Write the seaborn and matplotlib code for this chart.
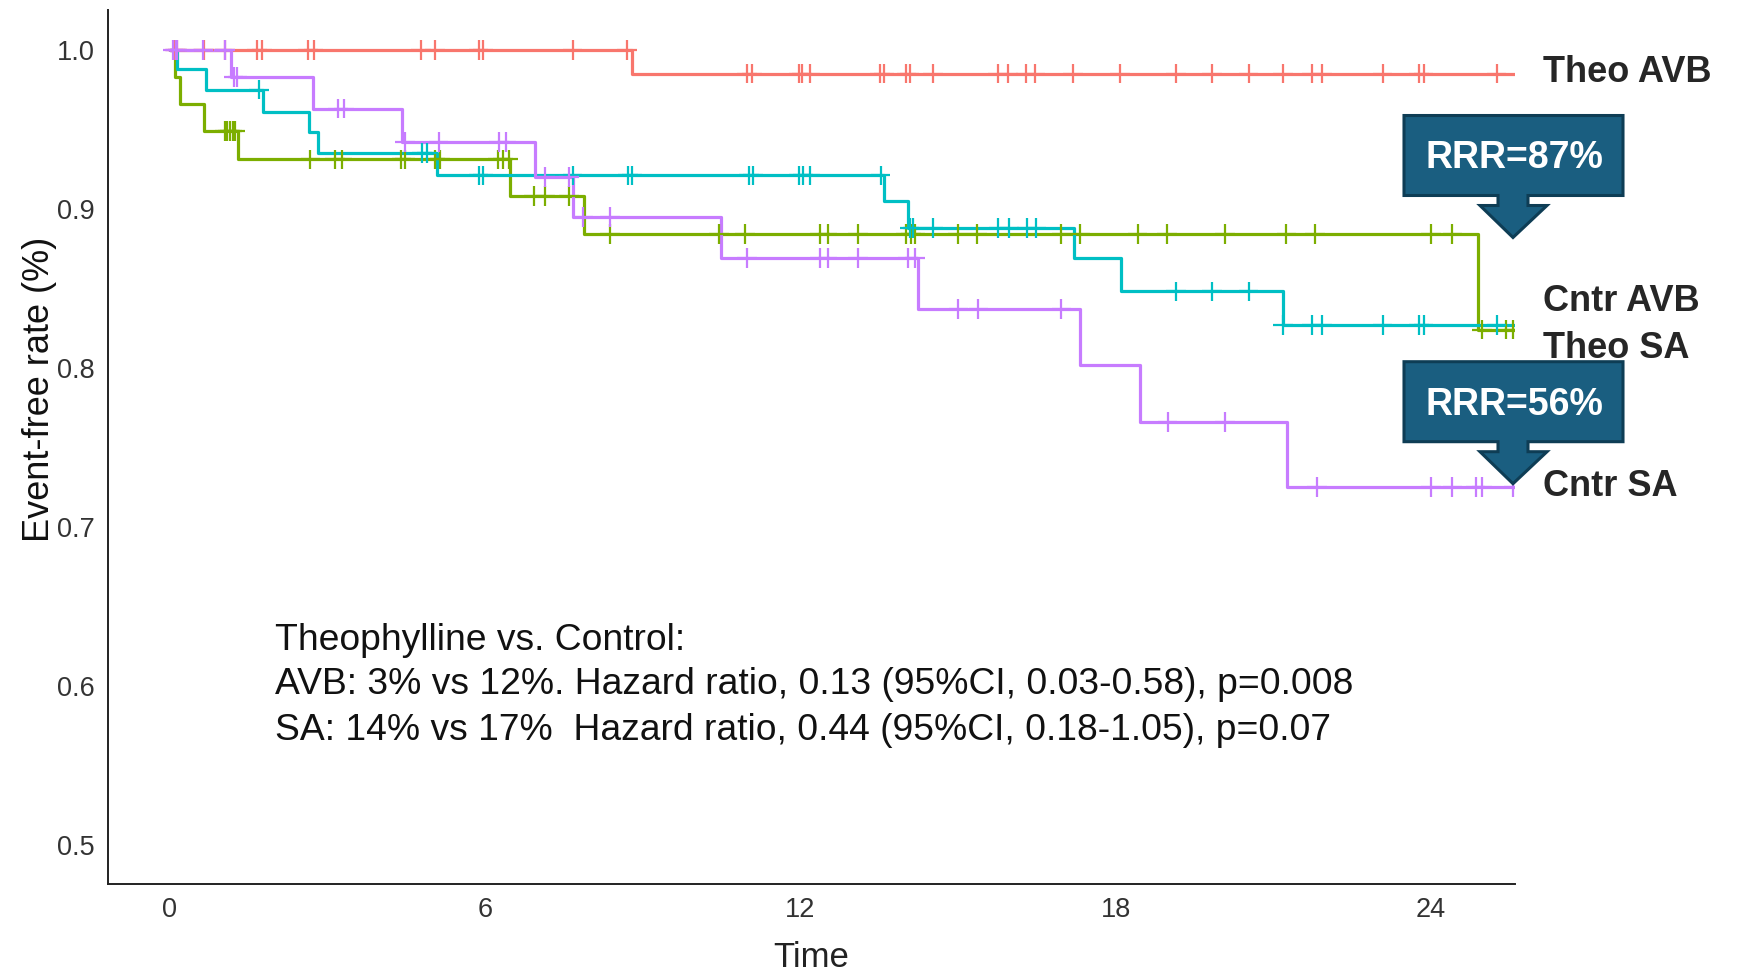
import numpy as np
import pandas as pd
import matplotlib.pyplot as plt
import seaborn as sns
from matplotlib.patches import Polygon

# step data (time in months, event-free rate)
theo_avb_t = [0, 8.8, 25.6]
theo_avb_s = [1.0, 0.985, 0.985]
theo_avb_cens = [0.1, 0.15, 0.66, 1.06, 1.66, 1.76, 2.64, 2.74, 4.78, 5.05, 5.88, 5.97,
                 7.67, 8.7, 10.99, 11.08, 11.97, 12.03, 12.18, 13.52, 13.59, 14.02, 14.08,
                 14.52, 15.76, 15.96, 16.3, 16.47, 17.19, 18.08, 19.15, 19.84, 20.53, 21.18,
                 21.73, 21.93, 23.08, 23.77, 23.86, 25.25]

theo_sa_t = [0, 0.1, 0.2, 0.66, 1.3, 6.47, 7.88, 24.9, 25.6]
theo_sa_s = [1.0, 0.983, 0.966, 0.949, 0.931, 0.908, 0.884, 0.824, 0.824]
theo_sa_cens = [1.05, 1.1, 1.15, 1.2, 1.24, 2.68, 3.15, 3.29, 4.41, 4.48, 5.05, 5.15,
                6.25, 6.34, 6.45, 6.94, 7.15, 7.6, 8.38, 10.45, 10.95, 12.38, 12.52, 13.1,
                14.01, 14.11, 14.18, 15.0, 15.37, 16.97, 17.33, 18.42, 18.98, 20.08, 21.25,
                21.79, 24.0, 24.41, 24.97, 25.43, 25.57]

cntr_avb_t = [0, 0.15, 0.69, 1.78, 2.65, 2.82, 5.09, 13.6, 14.05, 17.2, 18.1, 21.18, 25.6]
cntr_avb_s = [1.0, 0.988, 0.975, 0.961, 0.948, 0.935, 0.921, 0.905, 0.888, 0.869, 0.848,
              0.827, 0.827]
cntr_avb_cens = [1.7, 4.8, 4.9, 5.88, 5.97, 7.67, 8.72, 8.8, 11.03, 11.1, 11.98, 12.05,
                 12.18, 13.53, 14.08, 14.15, 14.52, 15.77, 15.98, 16.32, 16.49, 19.15, 19.84,
                 20.53, 21.18, 21.73, 21.93, 23.08, 23.77, 23.86, 25.25]

cntr_sa_t = [0, 1.17, 2.72, 4.43, 6.95, 7.67, 10.49, 14.25, 17.32, 18.46, 21.27, 25.6]
cntr_sa_s = [1.0, 0.983, 0.963, 0.942, 0.920, 0.895, 0.869, 0.837, 0.802, 0.766, 0.725, 0.725]
cntr_sa_cens = [0.07, 0.12, 0.15, 0.64, 1.05, 1.22, 1.29, 3.2, 3.32, 4.48, 5.12, 6.27, 6.41,
                7.15, 7.6, 7.87, 8.38, 10.99, 12.37, 12.52, 13.1, 14.05, 14.18, 15.01, 15.39,
                16.97, 18.99, 20.08, 21.83, 24.0, 24.41, 24.85, 24.97, 25.57]

groups = ['Theo AVB', 'Theo SA', 'Cntr AVB', 'Cntr SA']
colors = ['#F8766D', '#7CAE00', '#00BFC4', '#C77CFF']
x_ticks = [0, 6, 12, 18, 24]
y_ticks = [0.5, 0.6, 0.7, 0.8, 0.9, 1.0]

curves = {
    'Theo AVB': (theo_avb_t, theo_avb_s, theo_avb_cens),
    'Theo SA': (theo_sa_t, theo_sa_s, theo_sa_cens),
    'Cntr AVB': (cntr_avb_t, cntr_avb_s, cntr_avb_cens),
    'Cntr SA': (cntr_sa_t, cntr_sa_s, cntr_sa_cens),
}

line_parts, cens_parts = [], []
for g in groups:
    t, s, c = curves[g]
    line_parts.append(pd.DataFrame({'time': t, 'surv': s, 'group': g}))
    idx = np.searchsorted(t, c, side='right') - 1
    cens_parts.append(pd.DataFrame({'time': c, 'surv': np.array(s)[idx], 'group': g}))
df_lines = pd.concat(line_parts, ignore_index=True)
df_cens = pd.concat(cens_parts, ignore_index=True)

sns.set_style('white')
plt.rcParams['font.family'] = ['Liberation Sans', 'DejaVu Sans']
palette = dict(zip(groups, colors))

fig = plt.figure(figsize=(17.4, 9.73), dpi=100)
ax = fig.add_axes([0.0618, 0.091, 0.8089, 0.8987])

sns.lineplot(data=df_lines, x='time', y='surv', hue='group', hue_order=groups,
             palette=palette, drawstyle='steps-post', estimator=None, sort=False,
             linewidth=2.3, legend=False, ax=ax)
sns.scatterplot(data=df_cens, x='time', y='surv', hue='group', hue_order=groups,
                palette=palette, marker='+', s=200, linewidth=1.6, legend=False,
                ax=ax, zorder=3)

ax.set_xlim(-1.18, 25.6)
ax.set_ylim(0.475, 1.025)
ax.set_xticks(x_ticks)
ax.set_yticks(y_ticks)
ax.set_xticklabels([str(v) for v in x_ticks], fontsize=19.5, color='#333333')
ax.set_yticklabels([f'{v:.1f}' for v in y_ticks], fontsize=19.5, color='#333333')
ax.tick_params(axis='both', length=5, width=1.2, color='#333333', pad=4)
for side in ['top', 'right']:
    ax.spines[side].set_visible(False)
for side in ['left', 'bottom']:
    ax.spines[side].set_color('#222222')
    ax.spines[side].set_linewidth(1.4)

ax.set_xlabel('Time', fontsize=25, color='#222222', labelpad=13)
ax.set_ylabel('Event-free rate (%)', fontsize=26, color='#111111')
ax.yaxis.set_label_coords(-0.036, 0.566)

W, H = 1740.0, 973.0
def fx(px):
    return px / W
def fy(py):
    return 1 - py / H

# stats text
stats_lines = ['Theophylline vs. Control:',
               'AVB: 3% vs 12%. Hazard ratio, 0.13 (95%CI, 0.03-0.58), p=0.008',
               'SA: 14% vs 17%  Hazard ratio, 0.44 (95%CI, 0.18-1.05), p=0.07']
for i, line in enumerate(stats_lines):
    fig.text(fx(275), fy(640 + i * 45), line, fontsize=26.8, va='center', ha='left',
             color='#111111')

# group labels at the right
label_y = {'Theo AVB': 72, 'Cntr AVB': 301, 'Theo SA': 348, 'Cntr SA': 486}
for g, py in label_y.items():
    fig.text(fx(1543), fy(py), g, fontsize=26, fontweight='bold', va='center', ha='left')

# RRR callouts
def callout(top, text):
    pts = [(1404, top), (1623, top), (1623, top + 80), (1528, top + 80), (1528, top + 90),
           (1547, top + 90), (1513, top + 122), (1480, top + 90), (1498, top + 90),
           (1498, top + 80), (1404, top + 80)]
    poly = Polygon([(fx(x), fy(y)) for x, y in pts], closed=True, facecolor='#1A5E80',
                   edgecolor='#0E3D55', linewidth=2.2, transform=fig.transFigure)
    fig.add_artist(poly)
    fig.text(fx(1514), fy(top + 43), text, fontsize=27, fontweight='bold', color='white',
             ha='center', va='center')

callout(115.5, 'RRR=87%')
callout(361.7, 'RRR=56%')

fig.savefig('out.png', dpi=100)
